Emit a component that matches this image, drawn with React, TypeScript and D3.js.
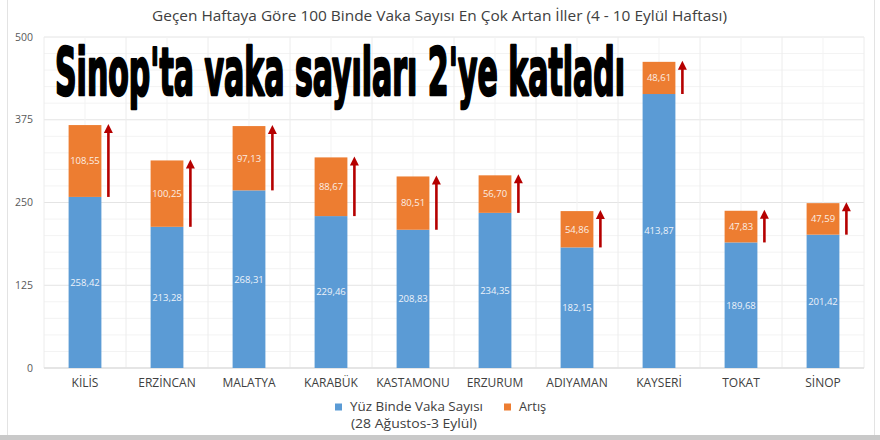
import React from "react";
import * as d3 from "d3";

const categories = ["KİLİS", "ERZİNCAN", "MALATYA", "KARABÜK", "KASTAMONU", "ERZURUM", "ADIYAMAN", "KAYSERİ", "TOKAT", "SİNOP"];
const baseValues = [258.42, 213.28, 268.31, 229.46, 208.83, 234.35, 182.15, 413.87, 189.68, 201.42];
const increaseValues = [108.55, 100.25, 97.13, 88.67, 80.51, 56.7, 54.86, 48.61, 47.83, 47.59];
const yTicks = [0, 125, 250, 375, 500];
const minorStep = 25;

const chartTitle = "Geçen Haftaya Göre 100 Binde Vaka Sayısı En Çok Artan İller (4 - 10 Eylül Haftası)";
const headline = "Sinop'ta vaka sayıları 2'ye katladı";
const legendBase = ["Yüz Binde Vaka Sayısı", "(28 Ağustos-3 Eylül)"];
const legendIncrease = "Artış";

const W = 880;
const H = 440;
const plot = { left: 44, right: 864, top: 37, bottom: 368 };
const BLUE = "#5b9bd5";
const ORANGE = "#ed7d31";
const ARROW = "#b50000";
const FONT = "'Open Sans', 'Liberation Sans', sans-serif";

const fmt = (v: number) => d3.format(".2f")(v).replace(".", ",");

export default function App() {
  const x = d3.scaleBand<string>().domain(categories).range([plot.left, plot.right]).padding(0);
  const y = d3.scaleLinear().domain([0, 500]).range([plot.bottom, plot.top]);
  const bw = x.bandwidth() * 0.4;
  const minorTicks = d3.range(0, 500 + minorStep, minorStep);
  const vLines: number[] = [];
  categories.forEach((c) => {
    vLines.push(x(c)!);
    vLines.push(x(c)! + x.bandwidth() / 2);
  });
  vLines.push(plot.right);

  return (
    <svg width={W} height={H} style={{ position: "absolute", left: 0, top: 0, background: "#fff" }} fontFamily={FONT}>
      <rect x={0} y={0} width={W} height={H} fill="#fff" />
      {/* frame */}
      <line x1={7.5} x2={7.5} y1={0} y2={436} stroke="#e3e3e3" />
      <line x1={874.5} x2={874.5} y1={0} y2={436} stroke="#e3e3e3" />
      <rect x={0} y={435} width={W} height={5} fill="#c9c9c9" />

      {/* title */}
      <text x={152} y={21} fontSize={14.5} fill="#404040" textLength={575} lengthAdjust="spacingAndGlyphs">{chartTitle}</text>

      {/* grid */}
      {minorTicks.map((t) => (
        <line key={"h" + t} x1={plot.left} x2={plot.right} y1={y(t)} y2={y(t)} stroke={t % 125 === 0 ? "#e4e4e4" : "#f3f3f3"} strokeWidth={1} />
      ))}
      {vLines.map((v, i) => (
        <line key={"v" + i} x1={v} x2={v} y1={plot.top} y2={plot.bottom} stroke={i % 2 === 0 ? "#ececec" : "#f3f3f3"} strokeWidth={1} />
      ))}
      <line x1={plot.left} x2={plot.right} y1={y(0)} y2={y(0)} stroke="#d9d9d9" />

      {/* y ticks */}
      {yTicks.map((t) => (
        <text key={"yt" + t} x={33} y={y(t)} dy="0.35em" textAnchor="end" fontSize={10.5} fill="#595959">{t}</text>
      ))}

      {/* bars */}
      {categories.map((c, i) => {
        const cx = x(c)! + x.bandwidth() / 2;
        const b = baseValues[i];
        const inc = increaseValues[i];
        const ax = cx + bw / 2 + 7;
        const tip = y(b + inc);
        return (
          <g key={c}>
            <rect x={cx - bw / 2} y={y(b)} width={bw} height={y(0) - y(b)} fill={BLUE} />
            <rect x={cx - bw / 2} y={tip} width={bw} height={y(b) - tip} fill={ORANGE} />
            <text x={cx} y={(y(0) + y(b)) / 2} dy="0.35em" textAnchor="middle" fontSize={9.5} fill="#eef3fa">{fmt(b)}</text>
            <text x={cx} y={(y(b) + tip) / 2} dy="0.35em" textAnchor="middle" fontSize={9.5} fill="#fbeee5">{fmt(inc)}</text>
            <line x1={ax} x2={ax} y1={y(b)} y2={tip + 6} stroke={ARROW} strokeWidth={2.6} />
            <path d={`M${ax},${tip - 1} L${ax + 4.5},${tip + 8} L${ax - 4.5},${tip + 8} Z`} fill={ARROW} />
            <text x={cx} y={383} dy="0.35em" textAnchor="middle" fontSize={12} fill="#404040">{c}</text>
          </g>
        );
      })}

      {/* legend */}
      <rect x={335} y={403.5} width={7} height={7} fill={BLUE} />
      <text x={350} y={407} dy="0.35em" fontSize={12.8} fill="#404040" textLength={133} lengthAdjust="spacingAndGlyphs">{legendBase[0]}</text>
      <text x={351} y={424} dy="0.35em" fontSize={12.8} fill="#404040" textLength={126} lengthAdjust="spacingAndGlyphs">{legendBase[1]}</text>
      <rect x={504} y={403.5} width={7} height={7} fill={ORANGE} />
      <text x={519} y={407} dy="0.35em" fontSize={12.8} fill="#404040">{legendIncrease}</text>

      {/* headline */}
      <text x={55} y={95} fontSize={66} fontWeight="bold" fontFamily="'DejaVu Sans Condensed', 'DejaVu Sans', sans-serif" fill="#000" stroke="#000" strokeWidth={2.4} strokeLinejoin="round" textLength={570} lengthAdjust="spacingAndGlyphs">{headline}</text>
    </svg>
  );
}
